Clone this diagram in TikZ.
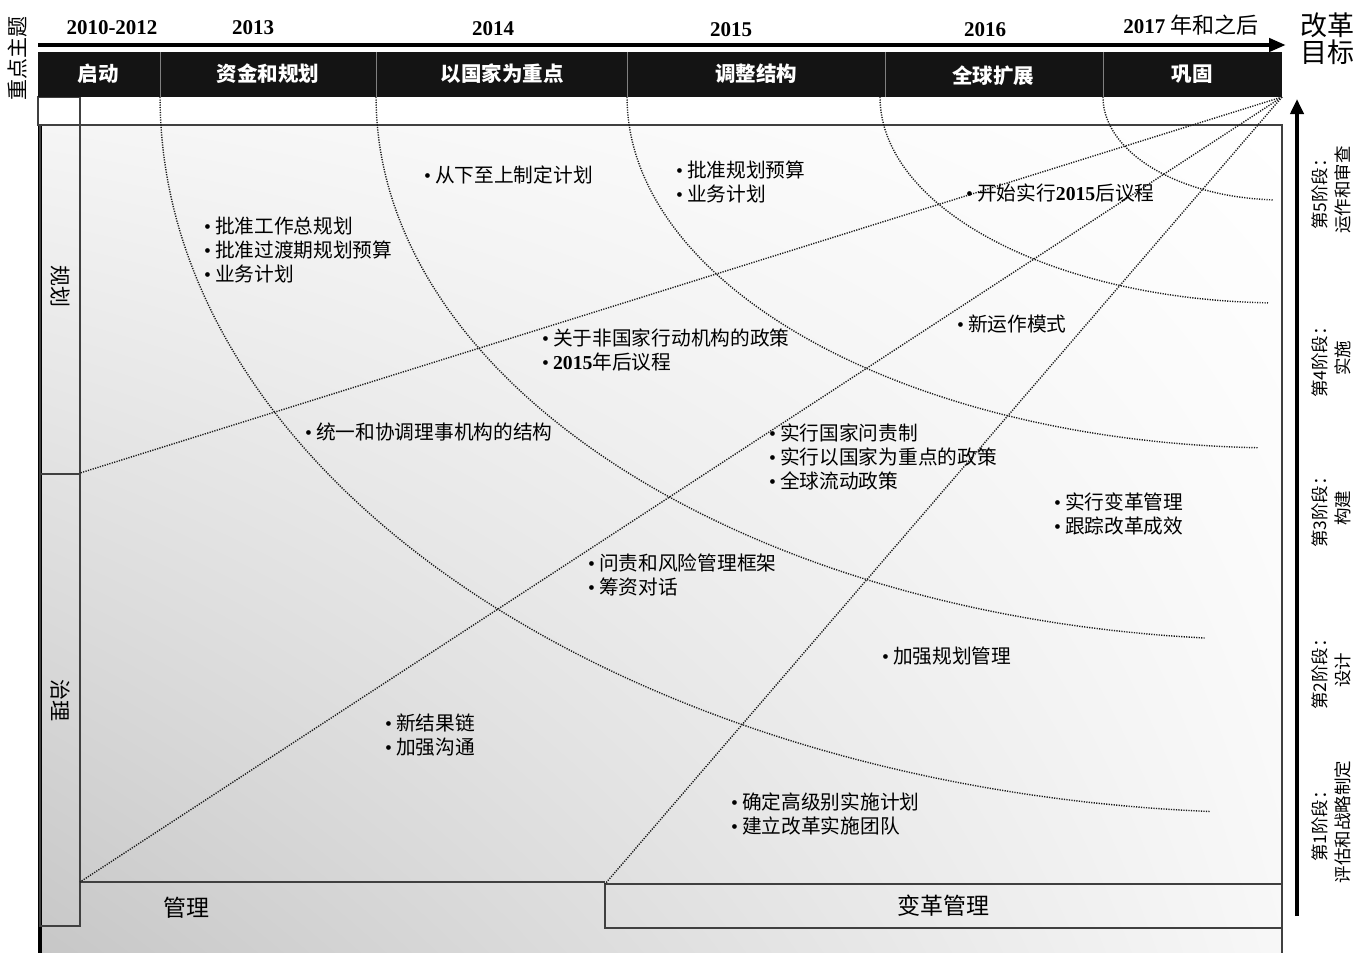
\documentclass[tikz,border=0pt]{standalone}
\usepackage{fontspec}
\setmainfont{Noto Sans CJK SC}
\newfontfamily\serifnum{Liberation Serif}
\newfontfamily\cjk{Noto Sans CJK SC}
\usetikzlibrary{arrows.meta,shadings}
\newcommand\yr[1]{{\serifnum\bfseries #1}}
\newcommand\bu{{\serifnum •}\hspace{4pt}}
\begin{document}
\begin{tikzpicture}[x=1pt,y=-1pt,
  every node/.style={inner sep=0pt},
  item/.style={anchor=west, align=left, font=\fontsize{19.7}{24}\selectfont},
  barlabel/.style={text=white, font=\bfseries\fontsize{20.5}{24}\selectfont},
  yearlabel/.style={font=\serifnum\bfseries\fontsize{21}{24}\selectfont},
  phase/.style={rotate=90, align=center, font=\fontsize{17.5}{23}\selectfont},
  sidelabel/.style={rotate=-90, font=\fontsize{21}{24}\selectfont},
  dotln/.style={line width=1.4pt, dash pattern=on 1.2pt off 1.3pt, black!90},
  frame/.style={draw=black!75, line width=1.3pt},
  divider/.style={draw=black!50, line width=1pt},
]
\useasboundingbox (0,0) rectangle (1355,953);
% background gradient of the main panel
\shade[lower left=black!22, upper left=black!4, upper right=white, lower right=black!3] (38,125) rectangle (1282,953);
% main panel frame
\draw[frame] (38,125) -- (1282,125) -- (1282,953);
\draw[line width=4.5pt] (40,125) -- (40,953);
% small box above left column
\draw[frame] (38,97) rectangle (80,125);
% left column boxes
\draw[frame] (40,125) rectangle (80,474);
\draw[frame] (40,474) rectangle (80,926);
\node[sidelabel] (plan) at (60,286) {规划};
\node[sidelabel] (gov) at (60,700) {治理};
% bottom bands
\coordinate (mgmtL) at (80,882);
\coordinate (mgmtR) at (605,882);
\draw[frame] (mgmtL) -- (mgmtR);
\draw[frame] (605,884) rectangle (1282,928);
\node[font=\fontsize{23}{24}\selectfont] (mgmt) at (186,908) {管理};
\node[font=\fontsize{23}{24}\selectfont] (chg) at (943,906) {变革管理};
% radiating dotted lines
\coordinate (apex) at (1282,97);
\coordinate (c1) at (80,473);
\coordinate (c2) at (80,882);
\coordinate (c3) at (605,884);
\draw[dotln] (apex) -- (c1);
\draw[dotln] (apex) -- (c2);
\draw[dotln] (apex) -- (c3);
% dotted arcs
\draw[dotln] plot[domain=180:92.9, samples=60, variable=\t] ({1282+179*cos(\t)}, {97+103*sin(\t)});
\draw[dotln] plot[domain=180:92, samples=80, variable=\t] ({1282+402*cos(\t)}, {97+206*sin(\t)});
\draw[dotln] plot[domain=180:92.1, samples=100, variable=\t] ({1282+655*cos(\t)}, {97+351*sin(\t)});
\draw[dotln] plot[domain=180:94.9, samples=120, variable=\t] ({1282+906*cos(\t)}, {97+543*sin(\t)});
\draw[dotln] plot[domain=180:93.7, samples=140, variable=\t] ({1282+1122*cos(\t)}, {97+716*sin(\t)});
% black theme bar
\fill[black!92] (38,52) rectangle (1282,97);
\foreach \xx in {160,376,627,885,1103} \draw[divider] (\xx,52) -- (\xx,97);
\node[barlabel] (b1) at (98,74) {启动};
\node[barlabel] (b2) at (268,74) {资金和规划};
\node[barlabel] (b3) at (502,74) {以国家为重点};
\node[barlabel] (b4) at (756,74) {调整结构};
\node[barlabel] (b5) at (993,76) {全球扩展};
\node[barlabel] (b6) at (1192,74) {巩固};
% timeline arrow and years
\coordinate (tlS) at (38,45);
\coordinate (tlE) at (1286,45);
\draw[line width=4.5pt, -{Triangle[length=17pt,width=13pt]}] (tlS) -- (tlE);
\node[yearlabel] (y1) at (112,28) {2010-2012};
\node[yearlabel] (y2) at (253,28) {2013};
\node[yearlabel] (y3) at (493,29) {2014};
\node[yearlabel] (y4) at (731,30) {2015};
\node[yearlabel] (y5) at (985,30) {2016};
\node[yearlabel] (y6) at (1191,25) {2017 {\cjk\mdseries\fontsize{22}{24}\selectfont 年和之后}};
\node[font=\fontsize{27}{28}\selectfont, align=center] (goal) at (1327,39) {改革\\[-1pt]目标};
\node[rotate=90, font=\fontsize{21}{24}\selectfont] (theme) at (18,58) {重点主题};
% phase arrow and labels
\coordinate (phS) at (1297,916);
\coordinate (phE) at (1297,99);
\draw[line width=4pt, -{Triangle[length=15pt,width=13pt]}] (phS) -- (phE);
\node[phase] (p5) at (1331,190) {第5阶段：\\运作和审查};
\node[phase] (p4) at (1331,358) {第4阶段：\\实施};
\node[phase] (p3) at (1331,508) {第3阶段：\\构建};
\node[phase] (p2) at (1331,670) {第2阶段：\\设计};
\node[phase] (p1) at (1331,822) {第1阶段：\\评估和战略制定};
% bullet items
\node[item] (i1) at (424,175) {\bu 从下至上制定计划};
\node[item] (i2) at (676,182) {\bu 批准规划预算\\\bu 业务计划};
\node[item] (i3) at (966,193) {\bu 开始实行\yr{2015}后议程};
\node[item] (i4) at (204,250) {\bu 批准工作总规划\\\bu 批准过渡期规划预算\\\bu 业务计划};
\node[item] (i5) at (542,350) {\bu 关于非国家行动机构的政策\\\bu \yr{2015}年后议程};
\node[item] (i6) at (957,324) {\bu 新运作模式};
\node[item] (i7) at (305,432) {\bu 统一和协调理事机构的结构};
\node[item] (i8) at (769,457) {\bu 实行国家问责制\\\bu 实行以国家为重点的政策\\\bu 全球流动政策};
\node[item] (i9) at (1054,514) {\bu 实行变革管理\\\bu 跟踪改革成效};
\node[item] (i10) at (588,575) {\bu 问责和风险管理框架\\\bu 筹资对话};
\node[item] (i11) at (882,656) {\bu 加强规划管理};
\node[item] (i12) at (385,735) {\bu 新结果链\\\bu 加强沟通};
\node[item] (i13) at (731,814) {\bu 确定高级别实施计划\\\bu 建立改革实施团队};
\end{tikzpicture}
\end{document}
